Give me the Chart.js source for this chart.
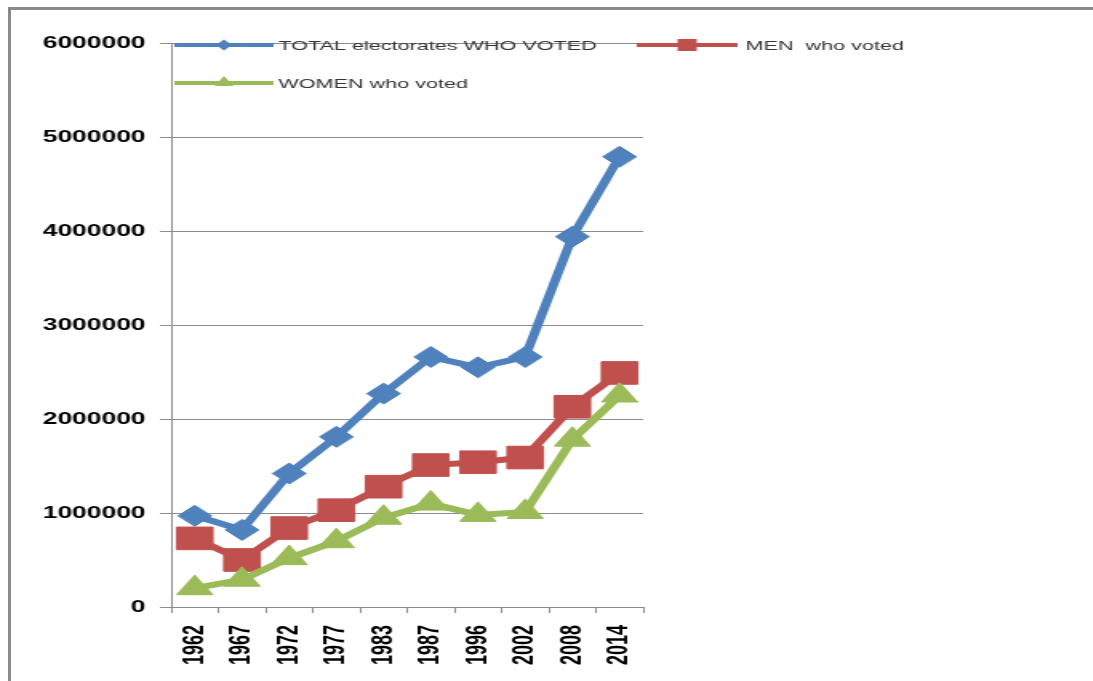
<!DOCTYPE html>
<html>
<head>
<meta charset="utf-8">
<title>Electorates who voted</title>
<script src="https://cdn.jsdelivr.net/npm/chart.js@4.4.0/dist/chart.umd.min.js"></script>
<style>
  html, body { margin: 0; padding: 0; background: #fff; overflow: hidden; }
  /* the picture is stretched sideways, so the chart is drawn narrow and scaled */
  #wrap { position: absolute; left: 0; top: 0; width: 683px; height: 681px;
          transform: scaleX(1.6); transform-origin: 0 0; }
  #frame { position: absolute; left: 8px; top: 7px; right: -10px; bottom: -10px;
           border-top: 3px solid #8a8a8a; border-left: 3px solid #8a8a8a; }
</style>
</head>
<body>
<div id="frame"></div>
<div id="wrap"><canvas id="chart" width="683" height="681"></canvas></div>
<script>
const years = ['1962', '1967', '1972', '1977', '1983', '1987', '1996', '2002', '2008', '2014'];
const totalVoted = [970000, 820000, 1420000, 1810000, 2270000, 2660000, 2550000, 2660000, 3940000, 4790000];
const menVoted = [730000, 500000, 840000, 1030000, 1280000, 1510000, 1540000, 1590000, 2130000, 2490000];
const womenVoted = [200000, 290000, 520000, 700000, 950000, 1100000, 980000, 1010000, 1780000, 2250000];
const seriesNames = ['TOTAL electorates WHO VOTED', 'MEN  who voted', 'WOMEN who voted'];
const yMin = 0;
const yMax = 6000000;
const yStep = 1000000;

const BLUE = '#4f81bd';
const RED = '#c0504d';
const GREEN = '#9bbb59';

// legend sits over the plot like in the original
const legendPlugin = {
  id: 'overLegend',
  afterDraw(chart) {
    const ctx = chart.ctx;
    const items = [
      { ds: 0, x1: 109, x2: 171, y: 45, tx: 174, shape: 'diamond' },
      { ds: 1, x1: 398, x2: 461, y: 45, tx: 466, shape: 'square' },
      { ds: 2, x1: 109, x2: 171, y: 83, tx: 174, shape: 'triangle' }
    ];
    ctx.save();
    items.forEach(it => {
      const ds = chart.data.datasets[it.ds];
      const mx = (it.x1 + it.x2) / 2;
      ctx.strokeStyle = ds.borderColor;
      ctx.lineWidth = 4;
      ctx.beginPath();
      ctx.moveTo(it.x1, it.y);
      ctx.lineTo(it.x2, it.y);
      ctx.stroke();
      ctx.fillStyle = ds.borderColor;
      ctx.beginPath();
      if (it.shape === 'diamond') {
        ctx.moveTo(mx - 5, it.y);
        ctx.lineTo(mx, it.y - 5.5);
        ctx.lineTo(mx + 5, it.y);
        ctx.lineTo(mx, it.y + 5.5);
      } else if (it.shape === 'square') {
        ctx.rect(mx - 6, it.y - 6, 12, 12);
      } else {
        ctx.moveTo(mx, it.y - 7);
        ctx.lineTo(mx + 6, it.y + 3);
        ctx.lineTo(mx - 6, it.y + 3);
      }
      ctx.closePath();
      ctx.fill();
      ctx.fillStyle = '#333';
      ctx.font = '13.5px "Liberation Sans", Arial, sans-serif';
      ctx.textBaseline = 'middle';
      ctx.textAlign = 'left';
      ctx.fillText(ds.label, it.tx, it.y + 1);
    });
    ctx.restore();
  }
};

const ctx = document.getElementById('chart').getContext('2d');

new Chart(ctx, {
  type: 'line',
  data: {
    labels: years,
    datasets: [
      {
        label: seriesNames[0],
        data: totalVoted,
        borderColor: BLUE,
        backgroundColor: BLUE,
        borderWidth: 6,
        pointStyle: 'rectRot',
        pointRadius: 10.5,
        pointHoverRadius: 10.5,
        pointBorderWidth: 1,
        order: 2
      },
      {
        label: seriesNames[1],
        data: menVoted,
        borderColor: RED,
        backgroundColor: RED,
        borderWidth: 6,
        pointStyle: 'rect',
        pointRadius: 16,
        pointHoverRadius: 16,
        pointBorderWidth: 1,
        order: 1
      },
      {
        label: seriesNames[2],
        data: womenVoted,
        borderColor: GREEN,
        backgroundColor: GREEN,
        borderWidth: 6,
        pointStyle: 'triangle',
        pointRadius: 13,
        pointHoverRadius: 13,
        pointBorderWidth: 1,
        order: 0
      }
    ]
  },
  options: {
    responsive: false,
    animation: false,
    clip: false,
    layout: { padding: { top: 43, right: 281, bottom: 0, left: 0 } },
    plugins: {
      legend: { display: false },
      tooltip: { enabled: false }
    },
    scales: {
      x: {
        offset: true,
        grid: {
          offset: true,
          drawOnChartArea: false,
          drawTicks: true,
          tickLength: 6,
          color: '#8c8c8c'
        },
        border: { color: '#8c8c8c', width: 1 },
        ticks: {
          autoSkip: false,
          minRotation: 90,
          maxRotation: 90,
          padding: 12,
          color: '#000',
          font: { family: '"Liberation Sans", Arial, sans-serif', size: 18, weight: 'bold' }
        },
        afterFit(scale) { scale.height = 74; }
      },
      y: {
        min: yMin,
        max: yMax,
        grid: {
          color: '#8c8c8c',
          lineWidth: 1,
          drawTicks: true,
          tickLength: 7
        },
        border: { color: '#8c8c8c', width: 1 },
        ticks: {
          stepSize: yStep,
          padding: 9,
          color: '#000',
          font: { family: '"Liberation Sans", Arial, sans-serif', size: 16.5, weight: 'bold' },
          callback: v => String(v)
        },
        afterFit(scale) { scale.width = 107; }
      }
    }
  },
  plugins: [legendPlugin]
});
</script>
</body>
</html>
